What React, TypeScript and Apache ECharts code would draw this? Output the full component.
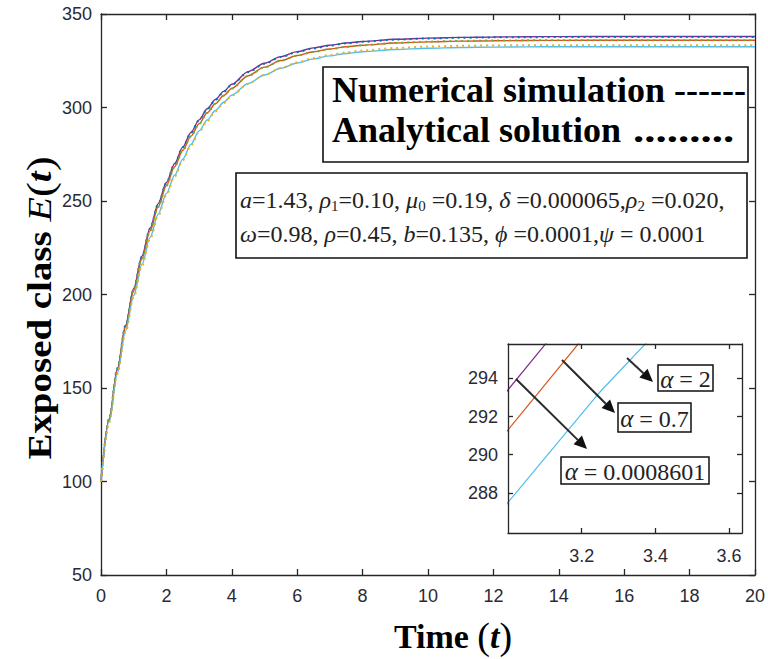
import React, { useEffect, useRef } from 'react';
import * as echarts from 'echarts';

// ---- data ----
const timePoints = [0, 0.25, 0.5, 0.75, 1, 1.25, 1.5, 1.75, 2, 2.25, 2.5, 2.75, 3, 3.25, 3.5, 3.75, 4, 4.5, 5, 5.5, 6, 6.5, 7, 7.5, 8, 9, 10, 11, 12, 13, 14, 16, 18, 20];

// numerical simulation
const numAlpha2 = [100, 133.5, 160.3, 183.5, 203.2, 220.5, 235.5, 248.6, 259.9, 269.9, 278.8, 286.6, 293.4, 299.3, 304.3, 308.6, 312.4, 319.2, 323.7, 327.2, 329.9, 331.9, 333.3, 334.5, 335.3, 336.5, 337.1, 337.5, 337.7, 337.85, 337.9, 338, 338, 338];
const numAlpha07 = [100, 133, 159.5, 182.5, 202, 219, 234, 247, 258.3, 268.3, 277.1, 284.7, 291.3, 297.2, 302.1, 306.4, 310.2, 317, 321.6, 325.1, 327.8, 329.8, 331.3, 332.5, 333.3, 334.5, 335.1, 335.5, 335.7, 335.85, 335.9, 336, 336, 336];
const numAlphaSmall = [100, 132, 158, 180.5, 199.5, 216, 230.5, 243, 254, 263.8, 272.4, 280.3, 287.5, 293.3, 298.4, 302.8, 306.6, 312.8, 317.4, 321, 323.8, 326, 327.6, 328.9, 329.8, 331, 331.7, 332.1, 332.3, 332.4, 332.5, 332.5, 332.5, 332.5];

// analytical solution
const anaAlpha2 = [100, 133.8, 160.5, 183.3, 203, 220.2, 235.3, 248.4, 259.7, 269.8, 278.7, 286.5, 293.2, 299.1, 304.1, 308.4, 312.2, 318.9, 323.4, 327, 329.6, 331.6, 333.1, 334.3, 335.1, 336.3, 336.9, 337.3, 337.5, 337.6, 337.7, 337.7, 337.7, 337.7];
const anaAlpha07 = [100, 133.2, 159.3, 182.3, 201.8, 218.8, 233.8, 246.8, 258.1, 268.1, 276.9, 284.5, 291.1, 297, 302, 306.3, 310.1, 316.9, 321.5, 325, 327.7, 329.7, 331.2, 332.4, 333.3, 334.5, 335.2, 335.6, 335.8, 335.9, 336, 336, 336, 336];
const anaAlphaSmall = [100, 131.5, 157.3, 179.7, 198.6, 215.1, 229.6, 242.1, 253.2, 263, 271.7, 279.6, 286.9, 292.8, 297.9, 302.4, 306.3, 312.6, 317.4, 321.1, 324.1, 326.4, 328.1, 329.5, 330.5, 331.8, 332.6, 333, 333.2, 333.3, 333.3, 333.3, 333.3, 333.3];

const insetXTicks = [3.2, 3.4, 3.6];
const insetYTicks = [288, 290, 292, 294];
const alphaLabels = ['2', '0.7', '0.0008601'];

// ---- styles ----
const AXIS = '#262626';
const SERIF = "'Liberation Serif', 'Times New Roman', serif";
const SANS = "'Liberation Sans Narrow', 'Liberation Sans', Arial, sans-serif";
const tickLabel = { color: '#2a2a35', fontFamily: SANS, fontSize: 18 };

const pairs = (vals: number[]) => timePoints.map((t, i) => [t, vals[i]]);

function arrow(x1: number, y1: number, x2: number, y2: number) {
  const dx = x2 - x1, dy = y2 - y1;
  const len = Math.sqrt(dx * dx + dy * dy);
  const ux = dx / len, uy = dy / len;
  const hl = 13, hw = 6;
  const bx = x2 - ux * hl, by = y2 - uy * hl;
  return [
    { type: 'line', shape: { x1, y1, x2: bx, y2: by }, style: { stroke: '#2b2b2b', lineWidth: 2 }, z: 100 },
    {
      type: 'polygon',
      shape: { points: [[x2, y2], [bx - uy * hw, by + ux * hw], [bx + uy * hw, by - ux * hw]] },
      style: { fill: '#111' },
      z: 100,
    },
  ];
}

function labelBox(x: number, y: number, w: number, h: number, val: string) {
  return [
    { type: 'rect', shape: { x, y, width: w, height: h }, style: { fill: '#fff', stroke: '#111', lineWidth: 1.5 }, z: 100 },
    {
      type: 'text', x: x + w / 2, y: y + h / 2 + 1, z: 101,
      style: {
        text: `{i|α}{n| = ${val}}`,
        align: 'center', verticalAlign: 'middle',
        rich: {
          i: { fontFamily: SERIF, fontStyle: 'italic', fontSize: 25, fill: '#222' },
          n: { fontFamily: SERIF, fontSize: 24, fill: '#222' },
        },
      },
    },
  ];
}

const App: React.FC = () => {
  const ref = useRef<HTMLDivElement>(null);

  useEffect(() => {
    if (!ref.current) return;
    const chart = echarts.init(ref.current, undefined, { renderer: 'svg' });

    const lineBase = { type: 'line', showSymbol: false, symbol: 'none', smooth: 0.3, smoothMonotone: 'x', animation: false, clip: true };
    const numColors = ['#7E2F8E', '#D95319', '#4DBEEE'];
    const anaColors = ['#0072BD', '#77AC30', '#EDB120'];
    const nums = [numAlpha2, numAlpha07, numAlphaSmall];
    const anas = [anaAlpha2, anaAlpha07, anaAlphaSmall];
    const names = alphaLabels.map((a) => 'α = ' + a);

    const series: any[] = [];
    nums.forEach((v, i) => series.push({ ...lineBase, name: names[i] + ' numerical', xAxisIndex: 0, yAxisIndex: 0, data: pairs(v), lineStyle: { color: numColors[i], width: 1.4 }, z: 2 }));
    anas.forEach((v, i) => series.push({ ...lineBase, name: names[i] + ' analytical', xAxisIndex: 0, yAxisIndex: 0, data: pairs(v), lineStyle: { color: anaColors[i], width: 2, type: [2, 4] }, z: 3 }));
    nums.forEach((v, i) => series.push({ ...lineBase, smooth: false, name: names[i] + ' inset', xAxisIndex: 2, yAxisIndex: 2, data: pairs(v), lineStyle: { color: numColors[i], width: 1.2 }, z: 5 }));

    const axisLine = { show: true, onZero: false, lineStyle: { color: AXIS, width: 1.3 } };
    const tick = { show: true, inside: true, length: 6, lineStyle: { color: AXIS, width: 1.3 } };

    const graphic: any[] = [
      // legend text box
      { type: 'rect', shape: { x: 323, y: 67, width: 425, height: 95 }, style: { fill: '#fff', stroke: '#111', lineWidth: 1.6 }, z: 100 },
      { type: 'text', x: 332, y: 90, z: 101, style: { text: 'Numerical simulation ------', fontFamily: SERIF, fontWeight: 'bold', fontSize: 36, fill: '#000', align: 'left', verticalAlign: 'middle' } },
      { type: 'text', x: 332, y: 130, z: 101, style: { text: 'Analytical solution', fontFamily: SERIF, fontWeight: 'bold', fontSize: 36, fill: '#000', align: 'left', verticalAlign: 'middle' } },
      { type: 'text', x: 633, y: 130, scaleX: 1.25, z: 101, style: { text: '.........', fontFamily: SERIF, fontWeight: 'bold', fontSize: 36, fill: '#000', align: 'left', verticalAlign: 'middle' } },
      // parameters box
      { type: 'rect', shape: { x: 236, y: 173, width: 511, height: 85 }, style: { fill: '#fff', stroke: '#111', lineWidth: 1.6 }, z: 100 },
      {
        type: 'text', x: 240, y: 200, z: 101,
        style: {
          text: '{i|a}{n|=1.43, }{i|ρ}{s|1}{n|=0.10, }{i|μ}{s|0}{n| =0.19, }{i|δ}{n| =0.000065,}{i|ρ}{s|2}{n| =0.020,}',
          align: 'left', verticalAlign: 'middle',
          rich: {
            i: { fontFamily: SERIF, fontStyle: 'italic', fontSize: 24, fill: '#222' },
            n: { fontFamily: SERIF, fontSize: 24, fill: '#222' },
            s: { fontFamily: SERIF, fontSize: 15, fill: '#222', padding: [12, 0, 0, 0] },
          },
        },
      },
      {
        type: 'text', x: 240, y: 234, z: 101,
        style: {
          text: '{i|ω}{n|=0.98, }{i|ρ}{n|=0.45, }{i|b}{n|=0.135, }{i|ϕ}{n| =0.0001,}{i|ψ}{n| = 0.0001}',
          align: 'left', verticalAlign: 'middle',
          rich: {
            i: { fontFamily: SERIF, fontStyle: 'italic', fontSize: 24, fill: '#222' },
            n: { fontFamily: SERIF, fontSize: 24, fill: '#222' },
          },
        },
      },
      // axis names
      {
        type: 'text', x: 453, y: 636, z: 101,
        style: {
          text: '{b|Time }{p|(}{t|t}{p|)}',
          align: 'center', verticalAlign: 'middle',
          rich: {
            b: { fontFamily: SERIF, fontWeight: 'bold', fontSize: 34, fill: '#000' },
            p: { fontFamily: SERIF, fontSize: 38, fill: '#000' },
            t: { fontFamily: SERIF, fontStyle: 'italic', fontWeight: 'bold', fontSize: 34, fill: '#000' },
          },
        },
      },
      {
        type: 'text', x: 40, y: 308, rotation: Math.PI / 2, scaleX: 1.18, z: 101,
        style: {
          text: '{b|Exposed class }{e|E}{p|(}{t|t}{p|)}',
          align: 'center', verticalAlign: 'middle',
          rich: {
            b: { fontFamily: SERIF, fontWeight: 'bold', fontSize: 33, fill: '#000' },
            e: { fontFamily: SERIF, fontStyle: 'italic', fontSize: 34, fill: '#000' },
            p: { fontFamily: SERIF, fontSize: 38, fill: '#000' },
            t: { fontFamily: SERIF, fontStyle: 'italic', fontWeight: 'bold', fontSize: 33, fill: '#000' },
          },
        },
      },
      ...arrow(627, 358, 653, 382),
      ...arrow(562, 360, 615, 413),
      ...arrow(516, 379, 587, 449),
      ...labelBox(658, 365, 55, 26, alphaLabels[0]),
      ...labelBox(618, 403, 73, 29, alphaLabels[1]),
      ...labelBox(561, 457, 148, 27, alphaLabels[2]),
    ];

    chart.setOption({
      animation: false,
      backgroundColor: '#fff',
      grid: [
        { left: 101, top: 14, right: 9, bottom: 84, show: false },
        { left: 508, top: 344, right: 26, bottom: 126, show: true, backgroundColor: '#fff', borderWidth: 0, z: 4 },
      ],
      xAxis: [
        { type: 'value', gridIndex: 0, min: 0, max: 20, interval: 2, position: 'bottom', axisLine, axisTick: tick, axisLabel: { ...tickLabel, margin: 12 }, splitLine: { show: false } },
        { type: 'value', gridIndex: 0, min: 0, max: 20, interval: 2, position: 'top', axisLine, axisTick: tick, axisLabel: { show: false }, splitLine: { show: false } },
        { type: 'value', gridIndex: 1, min: 3.0, max: 3.635, position: 'bottom', z: 6, axisLine, axisTick: { ...tick, length: 5, customValues: insetXTicks }, axisLabel: { ...tickLabel, margin: 14, customValues: insetXTicks, formatter: (v: number) => v.toFixed(1) }, splitLine: { show: false } },
        { type: 'value', gridIndex: 1, min: 3.0, max: 3.635, position: 'top', z: 6, axisLine, axisTick: { ...tick, length: 5, customValues: insetXTicks }, axisLabel: { show: false }, splitLine: { show: false } },
      ],
      yAxis: [
        { type: 'value', gridIndex: 0, min: 50, max: 350, interval: 50, position: 'left', axisLine, axisTick: tick, axisLabel: { ...tickLabel, margin: 9 }, splitLine: { show: false } },
        { type: 'value', gridIndex: 0, min: 50, max: 350, interval: 50, position: 'right', axisLine, axisTick: tick, axisLabel: { show: false }, splitLine: { show: false } },
        { type: 'value', gridIndex: 1, min: 285.9, max: 295.8, position: 'left', z: 6, axisLine, axisTick: { ...tick, length: 5, customValues: insetYTicks }, axisLabel: { ...tickLabel, margin: 10, customValues: insetYTicks }, splitLine: { show: false } },
        { type: 'value', gridIndex: 1, min: 285.9, max: 295.8, position: 'right', z: 6, axisLine, axisTick: { ...tick, length: 5, customValues: insetYTicks }, axisLabel: { show: false }, splitLine: { show: false } },
      ],
      series,
      graphic,
    });

    return () => chart.dispose();
  }, []);

  return <div ref={ref} style={{ position: 'absolute', left: 0, top: 0, width: 768, height: 659, background: '#fff' }} />;
};

export default App;
